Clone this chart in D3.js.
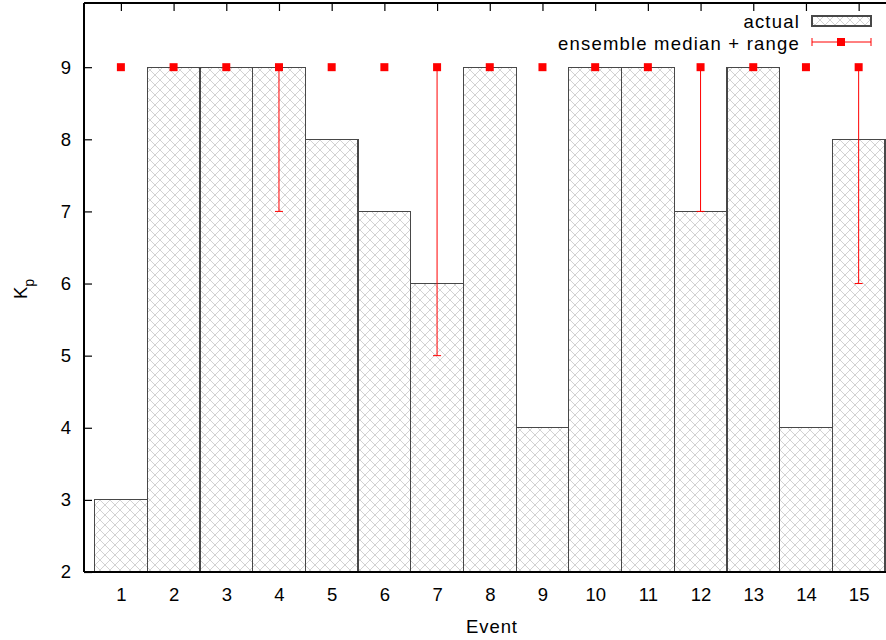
<!DOCTYPE html>
<html>
<head>
<meta charset="utf-8">
<script src="https://cdn.jsdelivr.net/npm/d3@7"></script>
<style>
  body { margin: 0; background: #fff; }
  svg { font-family: "Liberation Sans", Arial, sans-serif; }
</style>
</head>
<body>
<div id="chart"></div>
<script>
const events = [1, 2, 3, 4, 5, 6, 7, 8, 9, 10, 11, 12, 13, 14, 15];
const actual = [3, 9, 9, 9, 8, 7, 6, 9, 4, 9, 9, 7, 9, 4, 8];
const ensMedian = [9, 9, 9, 9, 9, 9, 9, 9, 9, 9, 9, 9, 9, 9, 9];
const ensMin = [9, 9, 9, 7, 9, 9, 5, 9, 9, 9, 9, 7, 9, 9, 6];
const ensMax = [9, 9, 9, 9, 9, 9, 9, 9, 9, 9, 9, 9, 9, 9, 9];
const yTicks = [2, 3, 4, 5, 6, 7, 8, 9];

const W = 886, H = 640;
const plot = { left: 84, right: 885, top: 3, bottom: 572 };
const FS = 18.5;

const x = d3.scaleLinear().domain([0.3, 15.5]).range([plot.left, plot.right]);
const y = d3.scaleLinear().domain([2, 9.89]).range([plot.bottom, plot.top]);

const svg = d3.select("#chart").append("svg").attr("width", W).attr("height", H);

// crosshatch fill
const defs = svg.append("defs");
const pat = defs.append("pattern")
  .attr("id", "hatch")
  .attr("patternUnits", "userSpaceOnUse")
  .attr("width", 10)
  .attr("height", 10);
pat.append("path")
  .attr("d", "M0,0 L10,10 M10,0 L0,10")
  .attr("stroke", "#c6c6c6")
  .attr("stroke-width", 0.8)
  .attr("fill", "none");

const data = events.map((e, i) => ({ e, actual: actual[i], med: ensMedian[i], lo: ensMin[i], hi: ensMax[i] }));

// bars
svg.append("g")
  .selectAll("rect")
  .data(data)
  .join("rect")
  .attr("x", (d) => x(d.e - 0.5))
  .attr("y", (d) => y(d.actual))
  .attr("width", (d) => x(d.e + 0.5) - x(d.e - 0.5))
  .attr("height", (d) => y(2) - y(d.actual))
  .attr("fill", "url(#hatch)")
  .attr("stroke", "#484848")
  .attr("stroke-width", 1.2)
  .attr("shape-rendering", "crispEdges");

// axes frame (left, top, bottom)
const frame = svg.append("g").attr("stroke", "#000").attr("stroke-width", 1.5).attr("shape-rendering", "crispEdges");
frame.append("line").attr("x1", plot.left).attr("x2", plot.left).attr("y1", plot.top).attr("y2", plot.bottom);
frame.append("line").attr("x1", plot.left).attr("x2", W).attr("y1", plot.top).attr("y2", plot.top);
frame.append("line").attr("x1", plot.left).attr("x2", W).attr("y1", plot.bottom).attr("y2", plot.bottom);

// y axis
const yAxis = svg.append("g")
  .attr("transform", `translate(${plot.left},0)`)
  .call(d3.axisLeft(y).tickValues(yTicks).tickSizeInner(-8).tickSizeOuter(0).tickPadding(13));
yAxis.select(".domain").remove();
yAxis.selectAll("line").attr("stroke", "#000").attr("stroke-width", 1.2);
yAxis.selectAll("text").attr("font-size", FS).attr("font-family", "Liberation Sans, Arial, sans-serif").attr("fill", "#000");

// x ticks at top (inward) and labels at bottom
const xTop = svg.append("g")
  .attr("transform", `translate(0,${plot.top})`)
  .call(d3.axisTop(x).tickValues(events).tickSizeInner(-8).tickSizeOuter(0).tickFormat(""));
xTop.select(".domain").remove();
xTop.selectAll("line").attr("stroke", "#000").attr("stroke-width", 1.2);

const xBot = svg.append("g")
  .attr("transform", `translate(0,${plot.bottom})`)
  .call(d3.axisBottom(x).tickValues(events).tickSize(0).tickPadding(15.5));
xBot.select(".domain").remove();
xBot.selectAll("text").attr("font-size", FS).attr("font-family", "Liberation Sans, Arial, sans-serif").attr("fill", "#000");

// error bars
const red = "#ff0000";
const eb = svg.append("g").attr("stroke", red).attr("stroke-width", 1);
eb.selectAll("line.v")
  .data(data.filter((d) => d.lo !== d.hi))
  .join("line")
  .attr("class", "v")
  .attr("x1", (d) => x(d.e)).attr("x2", (d) => x(d.e))
  .attr("y1", (d) => y(d.lo)).attr("y2", (d) => y(d.hi));
eb.selectAll("line.cl")
  .data(data.filter((d) => d.lo !== d.hi))
  .join("line")
  .attr("class", "cl")
  .attr("x1", (d) => x(d.e) - 4).attr("x2", (d) => x(d.e) + 4)
  .attr("y1", (d) => y(d.lo)).attr("y2", (d) => y(d.lo));

svg.append("g")
  .selectAll("rect")
  .data(data)
  .join("rect")
  .attr("x", (d) => x(d.e) - 4)
  .attr("y", (d) => y(d.med) - 4)
  .attr("width", 8)
  .attr("height", 8)
  .attr("fill", red);

// axis titles
svg.append("text")
  .attr("transform", "translate(27,289) rotate(-90)")
  .attr("text-anchor", "middle")
  .attr("font-size", FS)
  .text("K")
  .append("tspan")
  .attr("font-size", 14)
  .attr("dy", 7)
  .text("p");

svg.append("text")
  .attr("x", 492)
  .attr("y", 633)
  .attr("text-anchor", "middle")
  .attr("font-size", FS)
  .attr("letter-spacing", 0.9)
  .text("Event");

// legend
const lg = svg.append("g").attr("font-size", FS).attr("letter-spacing", 1.2);
lg.append("text").attr("x", 800).attr("y", 28).attr("text-anchor", "end").text("actual");
lg.append("rect").attr("x", 812).attr("y", 16).attr("width", 59).attr("height", 10)
  .attr("fill", "url(#hatch)").attr("stroke", "#484848").attr("stroke-width", 1.2).attr("shape-rendering", "crispEdges");
lg.append("text").attr("x", 800).attr("y", 50).attr("text-anchor", "end").text("ensemble median + range");
const le = lg.append("g").attr("stroke", red).attr("stroke-width", 1);
le.append("line").attr("x1", 812).attr("x2", 871).attr("y1", 42).attr("y2", 42);
le.append("line").attr("x1", 812).attr("x2", 812).attr("y1", 38).attr("y2", 46);
le.append("line").attr("x1", 871).attr("x2", 871).attr("y1", 38).attr("y2", 46);
lg.append("rect").attr("x", 837).attr("y", 38).attr("width", 8).attr("height", 8).attr("fill", red);
</script>
</body>
</html>
